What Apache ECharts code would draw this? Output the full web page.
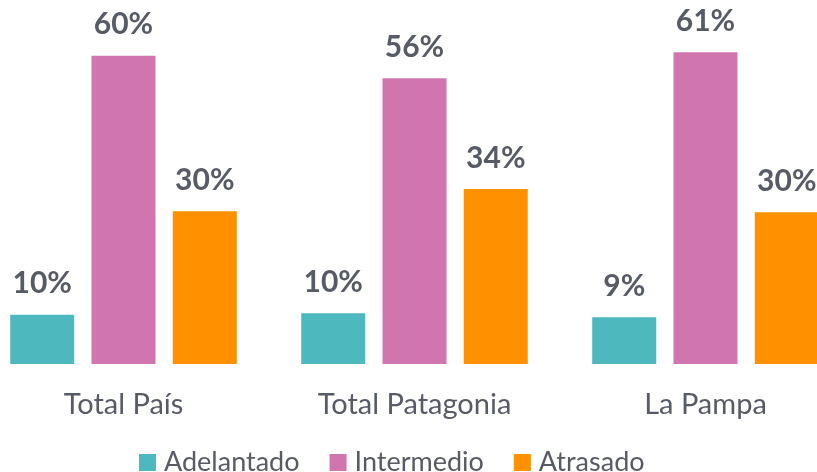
<!DOCTYPE html>
<html><head><meta charset="utf-8">
<script src="https://cdn.jsdelivr.net/npm/echarts@6/dist/echarts.min.js"></script>
<style>html,body{margin:0;padding:0;background:#fff;overflow:hidden;width:817px;height:472px}#c{width:873px;height:472px;margin-left:-22px}</style>
</head><body><div id="c"></div>
<script>
const categories = ['Total País', 'Total Patagonia', 'La Pampa'];
const adelantado = [9.6, 9.9, 9.1];
const intermedio = [60.1, 55.7, 60.8];
const atrasado = [29.8, 34.1, 29.6];
const seriesNames = ['Adelantado', 'Intermedio', 'Atrasado'];
const colors = ['#4DB8BE', '#D175AF', '#FF9100'];
const txt = '#575B66';

const chart = echarts.init(document.getElementById('c'));
const lbl = {
  show: true, position: 'top', distance: 16,
  formatter: p => Math.round(p.value) + '%',
  fontFamily: 'Lato', fontWeight: 'bold', fontSize: 30, color: txt
};
const data = [adelantado, intermedio, atrasado];
chart.setOption({
  animation: false,
  grid: { left: 0, right: 0, top: 5, bottom: 108, containLabel: false },
  legend: {
    bottom: -4, left: 161, padding: 0, itemWidth: 17, itemHeight: 17, itemGap: 30,
    icon: 'rect',
    textStyle: { fontFamily: 'Lato', fontSize: 27, color: txt, padding: [0, 0, 0, 3] }
  },
  xAxis: {
    type: 'category', data: categories,
    axisLine: { show: false }, axisTick: { show: false },
    axisLabel: { fontFamily: 'Lato', fontSize: 29, color: txt, margin: 26 }
  },
  yAxis: { type: 'value', min: 0, max: 70, show: false, splitLine: { show: false } },
  series: seriesNames.map((n, i) => ({
    name: n, type: 'bar', data: data[i], barWidth: 64, barGap: '27%',
    itemStyle: { color: colors[i] }, label: lbl
  }))
});
</script></body></html>
